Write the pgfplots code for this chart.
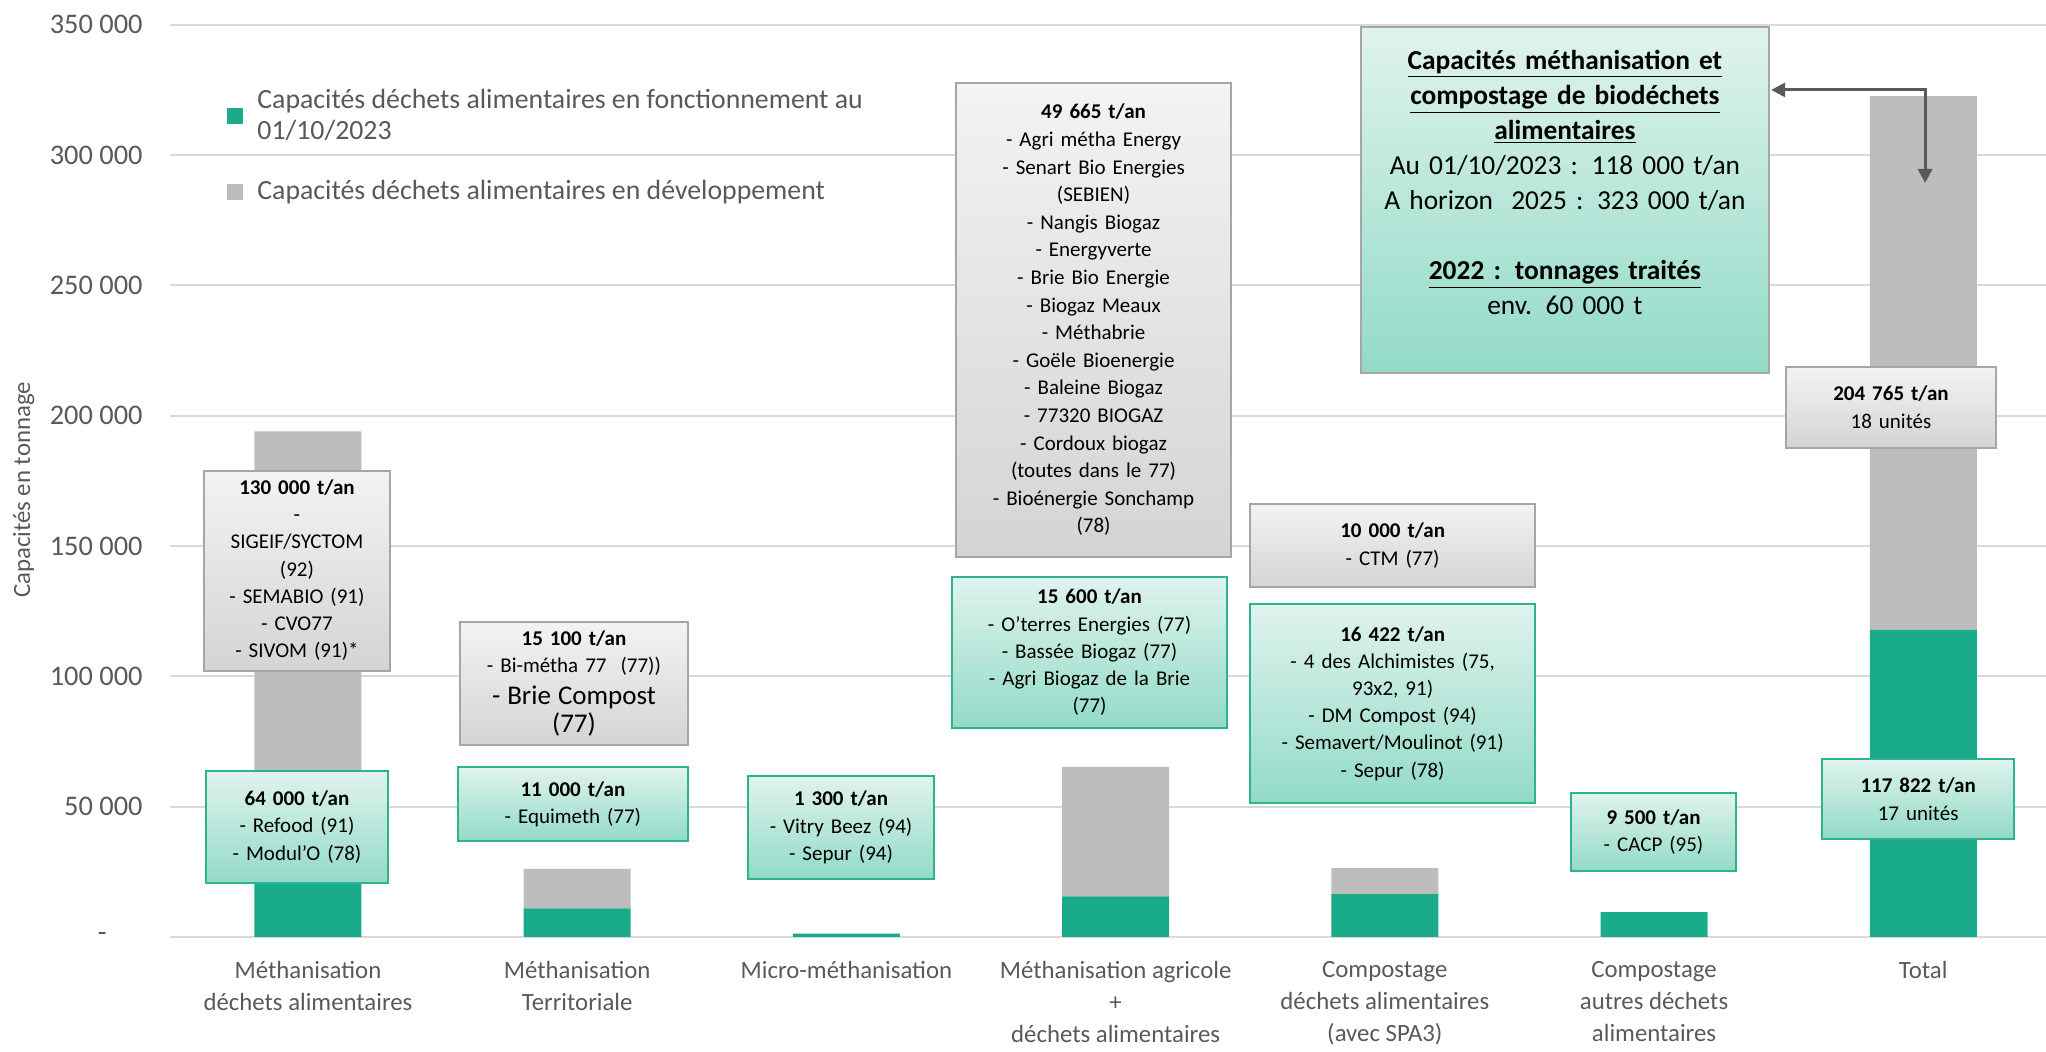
\documentclass[border=0pt]{standalone}
\usepackage{pgfplots}
\pgfplotsset{compat=1.18}
\usepackage{fontspec}
\setmainfont{Carlito}
\usetikzlibrary{arrows.meta}
\definecolor{cgreen}{HTML}{19AB8A}
\definecolor{cgrey}{HTML}{BDBDBD}
\definecolor{ctext}{HTML}{595959}
\definecolor{cgrid}{HTML}{D9D9D9}
\definecolor{gtop}{HTML}{E0F3EE}
\definecolor{gbot}{HTML}{92DBC6}
\definecolor{gedge}{HTML}{2DB293}
\definecolor{ytop}{HTML}{F3F3F3}
\definecolor{ybot}{HTML}{D4D4D4}
\definecolor{yedge}{HTML}{A6A6A6}

\tikzset{
  gbox/.style={draw=gedge, line width=1pt, top color=gtop, bottom color=gbot,
    align=center, inner xsep=2pt, inner ysep=0pt, text=black,
    font=\fontsize{10.5}{13.6}\selectfont},
  ybox/.style={draw=yedge, line width=1pt, top color=ytop, bottom color=ybot,
    align=center, inner xsep=2pt, inner ysep=0pt, text=black,
    font=\fontsize{10.5}{13.6}\selectfont},
}

\begin{document}
\begin{tikzpicture}
\path[use as bounding box] (-85pt,-57.5pt) rectangle (938pt,468.5pt);
\begin{axis}[
  scale only axis, width=938pt, height=456.1pt,
  ybar stacked, bar width=53.5pt,
  xmin=-0.5126, xmax=6.456, ymin=0, ymax=350000,
  axis line style={draw=none},
  xtick={0,...,6}, xtick style={draw=none}, ytick style={draw=none},
  ytick={0,50000,...,350000},
  yticklabels={\mbox{-\hspace*{18pt}},50 000,100 000,150 000,200 000,250 000,300 000,350 000},
  yticklabel style={anchor=east, inner sep=0pt, xshift=-13.5pt, text=ctext,
    font=\fontsize{14.2}{15}\selectfont},
  xticklabels={{Méthanisation\\déchets alimentaires},{Méthanisation\\Territoriale},
    {Micro-méthanisation},{Méthanisation agricole\\+\\déchets alimentaires},
    {Compostage\\déchets alimentaires\\(avec SPA3)},{Compostage\\autres déchets\\alimentaires},
    {Total}},
  xticklabel style={anchor=north, inner sep=0pt, yshift=-12pt, align=center, text=ctext,
    font=\fontsize{12.4}{16}\selectfont},
  ymajorgrids, major grid style={color=cgrid, line width=1pt},
  ylabel={Capacités en tonnage},
  ylabel style={at={(axis description cs:-0.078,0.490)}, anchor=center, text=ctext,
    font=\fontsize{12.4}{14}\selectfont},
  legend style={at={(axis description cs:0.0304,0.930)}, anchor=north west,
    draw=none, fill=none, inner sep=0pt, row sep=19pt,
    nodes={align=left, text=ctext, inner sep=0pt, font=\fontsize{13.9}{15.6}\selectfont},
    /tikz/every odd column/.append style={column sep=7pt}},
  legend cell align=left,
  legend image code/.code={\fill[#1] (0pt,-4pt) rectangle (8pt,4pt);},
]
\addplot[fill=cgreen, draw=none] coordinates {(0,64000) (1,11000) (2,1300) (3,15600) (4,16422) (5,9500) (6,117822)};
\addplot[fill=cgrey, draw=none] coordinates {(0,130000) (1,15100) (2,0) (3,49665) (4,10000) (5,0) (6,204765)};
\legend{{Capacités déchets alimentaires en fonctionnement au\\01/10/2023},{Capacités déchets alimentaires en développement}}

% anchor points for the call-out boxes, drawn after the axis so they sit on top
\coordinate (a1) at (axis cs:-0.041,140430);
\coordinate (a2) at (axis cs:-0.041,42200);
\coordinate (a3) at (axis cs:0.988,97270);
\coordinate (a4) at (axis cs:0.984,51030);
\coordinate (a5) at (axis cs:1.980,42010);
\coordinate (a6) at (axis cs:2.918,236740);
\coordinate (a7) at (axis cs:2.903,109160);
\coordinate (a8) at (axis cs:4.029,150210);
\coordinate (a9) at (axis cs:4.029,89590);
\coordinate (a10) at (axis cs:4.998,40290);
\coordinate (a11) at (axis cs:5.880,203170);
\coordinate (a12) at (axis cs:5.981,52950);
\coordinate (a13) at (axis cs:4.669,282790);
\coordinate (p1) at (axis cs:5.435,325000);
\coordinate (p2) at (axis cs:6.007,325000);
\coordinate (p3) at (axis cs:6.007,289300);
\end{axis}

\node[ybox, text width=89pt, minimum height=100pt] at (a1)
  {\\[-7pt]\textbf{130 000 t/an}\\-\\SIGEIF/SYCTOM\\(92)\\- SEMABIO (91)\\- CVO77\\- SIVOM (91)*};
\node[gbox, text width=87pt, minimum height=56pt] at (a2)
  {\textbf{64 000 t/an}\\- Refood (91)\\- Modul'O (78)};
\node[ybox, text width=110pt, minimum height=61.5pt] at (a3)
  {\textbf{15 100 t/an}\\- Bi-métha 77 \ (77))\\{\fontsize{13.5}{16}\selectfont - Brie Compost\\(77)}};
\node[gbox, text width=111pt, minimum height=37pt] at (a4)
  {\textbf{11 000 t/an}\\- Equimeth (77)};
\node[gbox, text width=89pt, minimum height=51.5pt] at (a5)
  {\textbf{1 300 t/an}\\- Vitry Beez (94)\\- Sepur (94)};
\node[ybox, text width=133.5pt, minimum height=237pt, font=\fontsize{10.5}{13.8}\selectfont] at (a6)
  {\textbf{49 665 t/an}\\- Agri métha Energy\\- Senart Bio Energies\\(SEBIEN)\\- Nangis Biogaz\\- Energyverte\\- Brie Bio Energie\\- Biogaz Meaux\\- Méthabrie\\- Goële Bioenergie\\- Baleine Biogaz\\- 77320 BIOGAZ\\- Cordoux biogaz\\(toutes dans le 77)\\- Bioénergie Sonchamp\\(78)\\[21pt]};
\node[gbox, text width=133.5pt, minimum height=75.5pt] at (a7)
  {\textbf{15 600 t/an}\\- O'terres Energies (77)\\- Bassée Biogaz (77)\\- Agri Biogaz de la Brie\\(77)};
\node[ybox, text width=138.5pt, minimum height=41.5pt] at (a8)
  {\textbf{10 000 t/an}\\- CTM (77)};
\node[gbox, text width=138.5pt, minimum height=99.5pt] at (a9)
  {\textbf{16 422 t/an}\\- 4 des Alchimistes (75,\\93x2, 91)\\- DM Compost (94)\\- Semavert/Moulinot (91)\\- Sepur (78)\\[4pt]};
\node[gbox, text width=78.5pt, minimum height=39pt] at (a10)
  {\textbf{9 500 t/an}\\- CACP (95)};
\node[ybox, text width=101pt, minimum height=40.5pt, font=\fontsize{10.5}{14}\selectfont] at (a11)
  {\textbf{204 765 t/an}\\18 unités};
\node[gbox, text width=92pt, minimum height=40pt, font=\fontsize{10.5}{14}\selectfont] at (a12)
  {\textbf{117 822 t/an}\\17 unités};
\node[gbox, draw=yedge, text width=200pt, minimum height=173pt, font=\fontsize{13.7}{17.5}\selectfont] at (a13)
  {\underline{\textbf{Capacités méthanisation et}}\\\underline{\textbf{compostage de biodéchets}}\\\underline{\textbf{alimentaires}}\\Au 01/10/2023 : 118 000 t/an\\A horizon \ 2025 : 323 000 t/an\\[17.5pt]\underline{\textbf{2022 : tonnages traités}}\\env. 60 000 t\\\mbox{}};
\draw[ctext, line width=1.5pt, {Triangle[length=7pt,width=7pt]}-{Triangle[length=7pt,width=7pt]}]
  (p1) -- (p2) -- (p3);
\end{tikzpicture}
\end{document}
